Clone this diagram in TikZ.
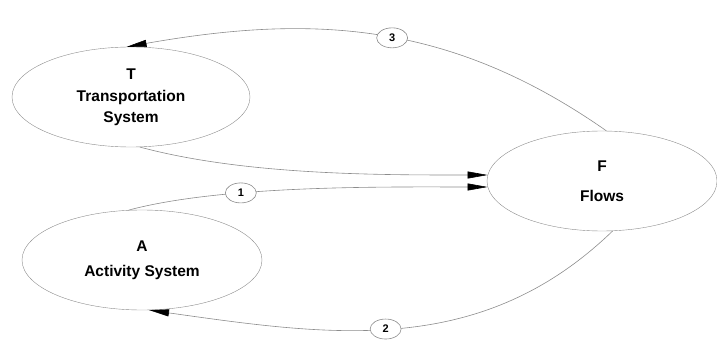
\documentclass[tikz,border=0pt]{standalone}
\usepackage{fontspec}
\setmainfont{Liberation Sans}
\usetikzlibrary{arrows.meta,shapes.geometric}
\definecolor{linegray}{gray}{0.55}

\begin{document}
\begin{tikzpicture}[
  x=1pt, y=1pt,
  font=\bfseries\fontsize{15.5}{20}\selectfont,
  sys/.style={ellipse, draw=linegray, align=center, inner sep=0pt,
              minimum width=238pt, minimum height=100pt},
  tag/.style={ellipse, draw=linegray, fill=white, inner sep=0pt,
              minimum width=31pt, minimum height=20pt,
              font=\bfseries\fontsize{11}{11}\selectfont},
  link/.style={draw=linegray, line width=0.6pt},
  >={Triangle[length=20pt,width=7pt,color=black]}]
\useasboundingbox (0,0) rectangle (717,343);
\node[sys] (T) at (131,246) {T\\[2pt]Transportation\\[1pt]System};
\node[sys, minimum width=240pt] (A) at (142,83) {A\\[5pt]Activity System};
\node[sys, minimum width=230pt] (F) at (602,162) {F\\[10pt]Flows};
\draw[link,->] (T.280) to[out=-15,in=180,looseness=0.8] (F.177);
\draw[link,->] (A.105) to[out=15,in=180,looseness=0.7]
  node[tag,pos=0.33]{1} (F.183);
\draw[link,->] (F.282) to[out=224,in=-8]
  node[tag,pos=0.53]{2} (A.278);
\draw[link,->] (F.85) to[out=145,in=10]
  node[tag,pos=0.47]{3} (T.95);
\end{tikzpicture}
\end{document}
